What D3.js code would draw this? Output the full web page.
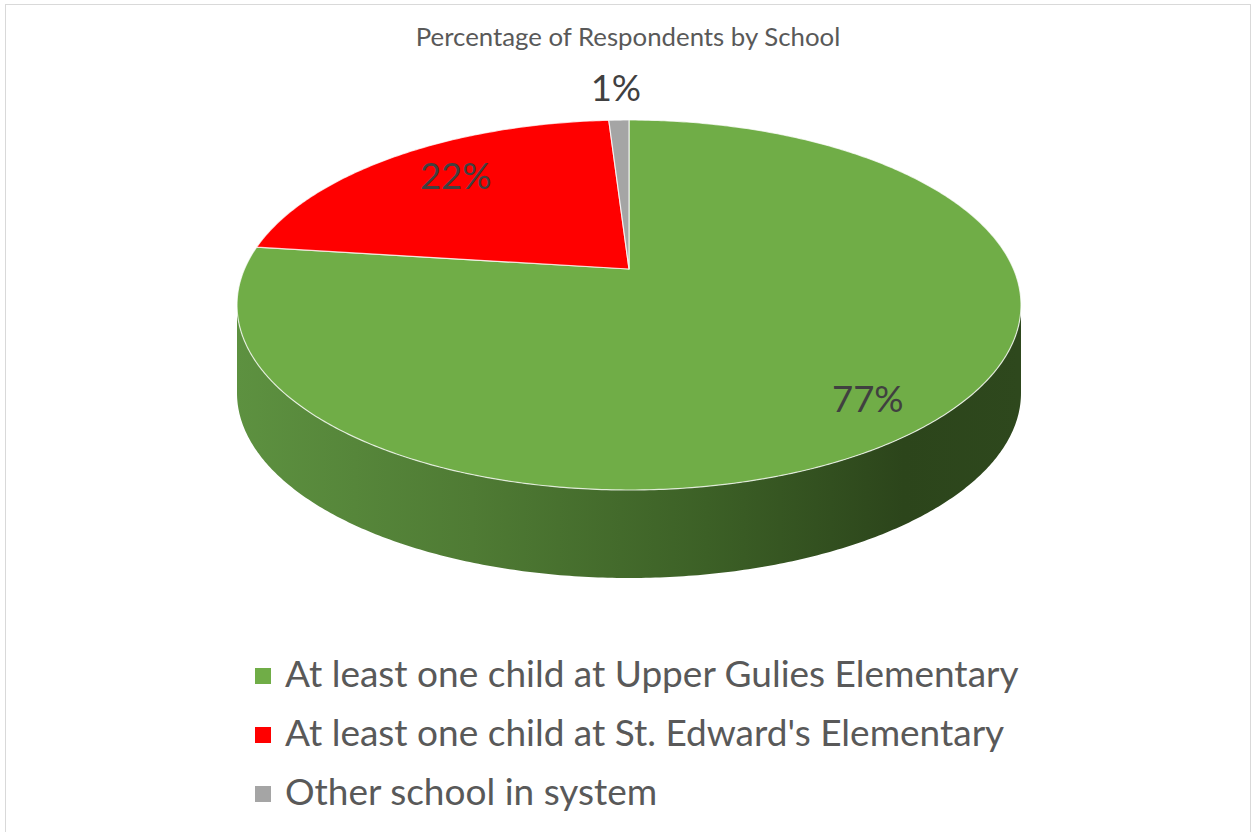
<!DOCTYPE html>
<html>
<head>
<meta charset="utf-8">
<script src="https://cdn.jsdelivr.net/npm/d3@7"></script>
<style>
  html, body { margin: 0; padding: 0; background: #fff; }
  svg { display: block; }
</style>
</head>
<body>
<script>
// chart data
const categories = [
  "At least one child at Upper Gulies Elementary",
  "At least one child at St. Edward's Elementary",
  "Other school in system"
];
const values = [77, 22, 1];
const colors = ["#70ad47", "#ff0000", "#a5a5a5"];
const title = "Percentage of Respondents by School";

const width = 1252, height = 832;
const font = "Lato, 'Noto Sans', sans-serif";

// perspective pie geometry
const cx = 629, cy = 269;     // projected centre of the top face
const ax = 384.5, ay = 178;   // horizontal / vertical radii before perspective
const k = 0.1946;             // perspective strength
const depth = 88;             // thickness of the disc

function proj(theta, r) {
  const u = r * Math.sin(theta), v = -r * Math.cos(theta);
  const w = 1 - k * v;
  return [cx + ax * u / w, cy + ay * v / w];
}

function arcPoints(a0, a1, r, dy) {
  const n = Math.max(2, Math.ceil(Math.abs(a1 - a0) / 0.01));
  return d3.range(n + 1).map(i => {
    const p = proj(a0 + (a1 - a0) * i / n, r);
    return [p[0], p[1] + (dy || 0)];
  });
}

const line = d3.line();
const pie = d3.pie().sort(null).value(d => d)(values);

const svg = d3.select("body").append("svg")
    .attr("width", width)
    .attr("height", height);

svg.append("rect")
    .attr("x", 5.5).attr("y", 4.5)
    .attr("width", 1245).attr("height", 840)
    .attr("fill", "#fff")
    .attr("stroke", "#d9d9d9");

const defs = svg.append("defs");
const grad = defs.append("linearGradient")
    .attr("id", "sideGreen")
    .attr("gradientUnits", "userSpaceOnUse")
    .attr("x1", cx - 392).attr("x2", cx + 392)
    .attr("y1", 0).attr("y2", 0);
[[0, "#5d9140"], [0.3, "#4f7b34"], [0.6, "#3c6026"], [0.85, "#2c451b"], [1, "#2e481d"]]
  .forEach(s => grad.append("stop").attr("offset", s[0]).attr("stop-color", s[1]));

// visible part of the cylinder wall: between the two silhouette angles
const sil0 = Math.acos(-k), sil1 = 2 * Math.PI - Math.acos(-k);

const g = svg.append("g");

pie.forEach((d, i) => {
  const a0 = Math.max(d.startAngle, sil0), a1 = Math.min(d.endAngle, sil1);
  if (a1 <= a0) return;
  const top = arcPoints(a0, a1, 1, 0);
  const bot = arcPoints(a1, a0, 1, depth);
  g.append("path")
      .attr("d", line(top.concat(bot)) + "Z")
      .attr("fill", i === 0 ? "url(#sideGreen)" : d3.color(colors[i]).darker(1.2));
});

// top face
pie.forEach((d, i) => {
  const pts = [proj(0, 0)].concat(arcPoints(d.startAngle, d.endAngle, 1, 0));
  g.append("path")
      .attr("d", line(pts) + "Z")
      .attr("fill", colors[i])
      .attr("stroke", "#fff")
      .attr("stroke-opacity", 0.75)
      .attr("stroke-width", 1.2)
      .attr("stroke-linejoin", "round");
});

// data labels
const total = d3.sum(values);
pie.forEach((d, i) => {
  const mid = (d.startAngle + d.endAngle) / 2;
  const share = d.value / total;
  let p;
  if (share < 0.05) {
    p = proj(mid, 1);
    p = [p[0] - 3, p[1] - 19];
  } else {
    p = proj(mid, share > 0.5 ? 0.835 : 0.74);
    p = [p[0] + (share > 0.5 ? -3 : 3), p[1] + (share > 0.5 ? 16 : 7)];
  }
  svg.append("text")
      .attr("x", p[0]).attr("y", p[1])
      .attr("text-anchor", "middle")
      .attr("font-family", font)
      .attr("font-size", 36.5)
      .attr("fill", "#404040")
      .text(Math.round(share * 100) + "%");
});

svg.append("text")
    .attr("x", 628).attr("y", 46)
    .attr("text-anchor", "middle")
    .attr("font-family", font)
    .attr("font-size", 25.8)
    .attr("fill", "#595959")
    .text(title);

// legend
const legend = svg.append("g").attr("transform", "translate(255,687)");
categories.forEach((c, i) => {
  const row = legend.append("g").attr("transform", `translate(0,${i * 59})`);
  row.append("rect")
      .attr("x", 0).attr("y", -19)
      .attr("width", 16).attr("height", 16)
      .attr("fill", colors[i]);
  row.append("text")
      .attr("x", 30).attr("y", 0)
      .attr("font-family", font)
      .attr("font-size", 37)
      .attr("fill", "#595959")
      .text(c);
});
</script>
</body>
</html>
